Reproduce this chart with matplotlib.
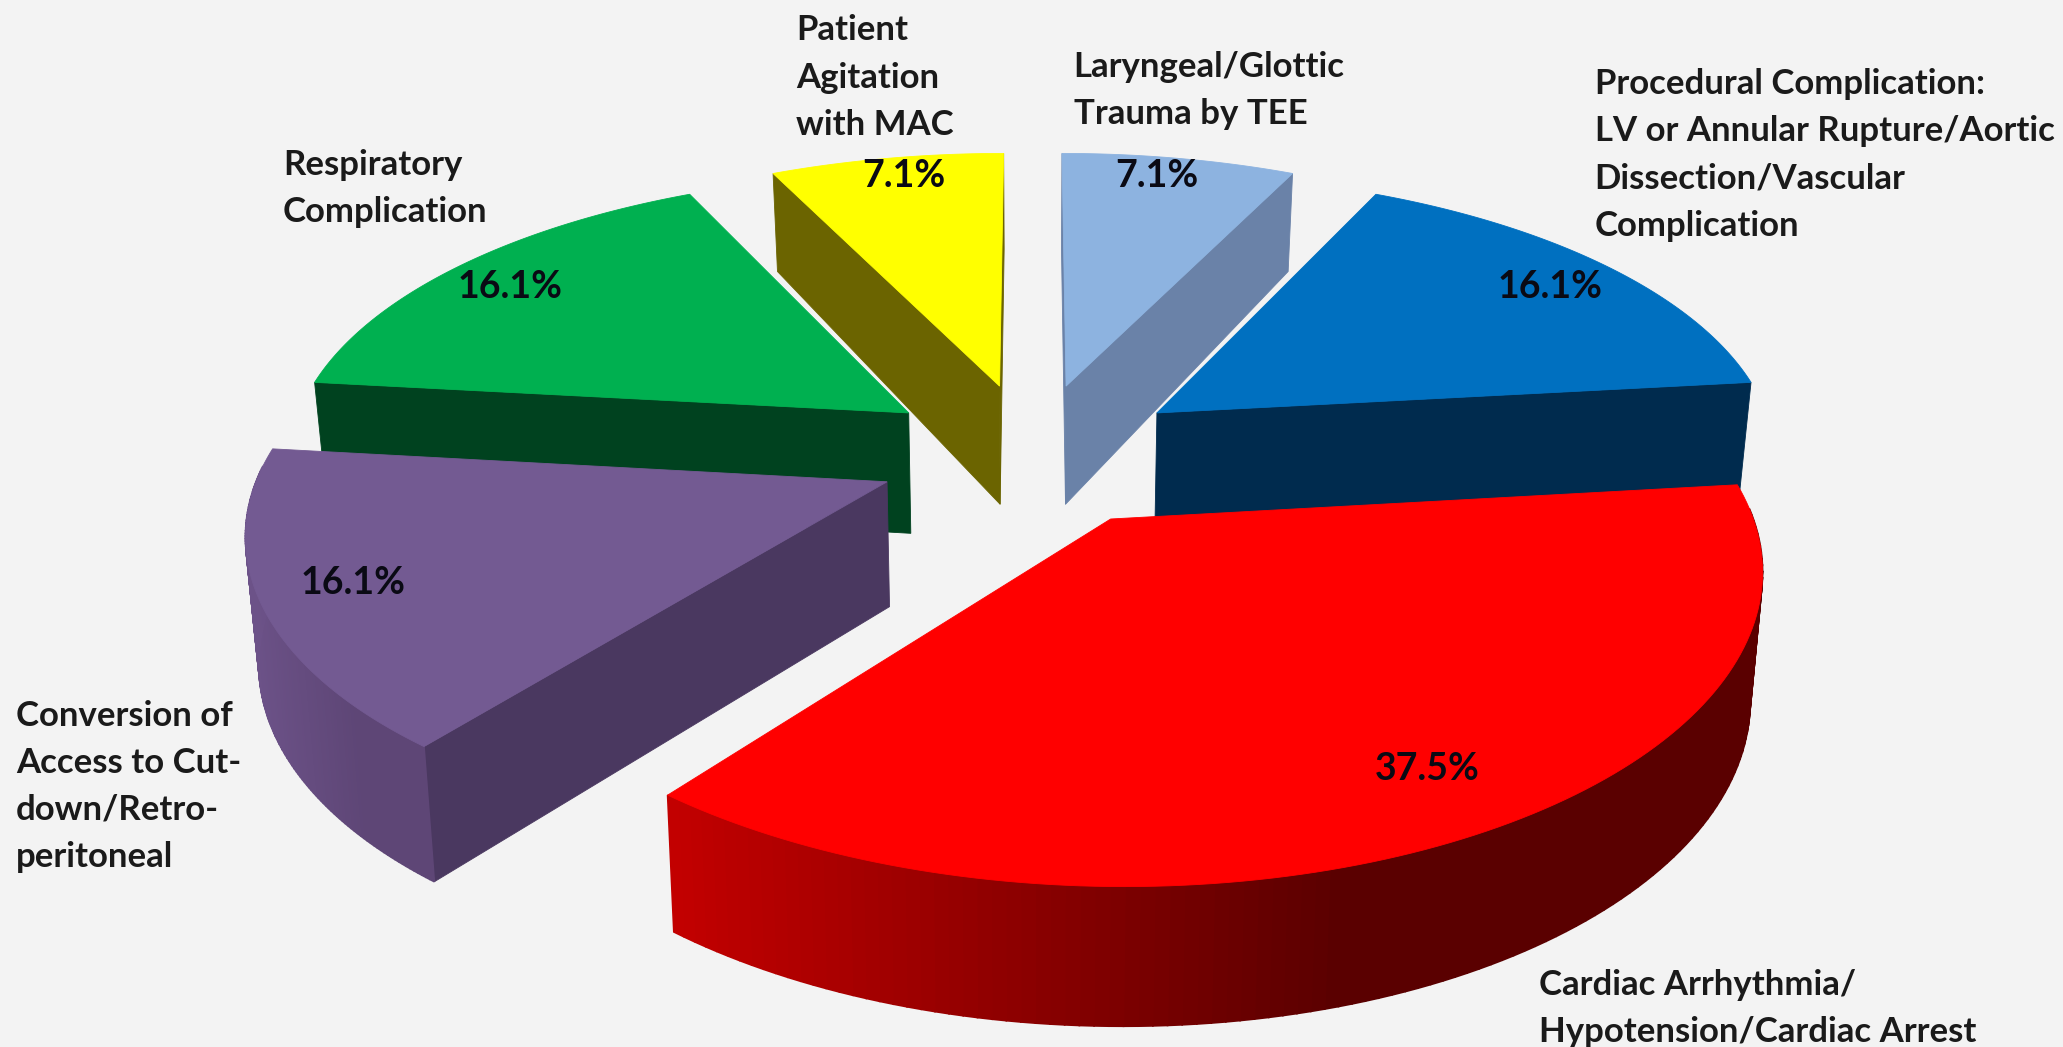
import numpy as np
import matplotlib
matplotlib.use("Agg")
import matplotlib.pyplot as plt
from matplotlib.patches import Polygon

# Slices clockwise from twelve o'clock
categories = [
    "Laryngeal/Glottic\nTrauma by TEE",
    "Procedural Complication:\nLV or Annular Rupture/Aortic\nDissection/Vascular\nComplication",
    "Cardiac Arrhythmia/\nHypotension/Cardiac Arrest",
    "Conversion of\nAccess to Cut-\ndown/Retro-\nperitoneal",
    "Respiratory\nComplication",
    "Patient\nAgitation\nwith MAC",
]
shares = [7.1, 16.1, 37.5, 16.1, 16.1, 7.1]
top_colors = ["#8DB3E0", "#0070C0", "#FF0000", "#735A92", "#00B050", "#FFFF00"]
wall_colors = ["#6A82A8", "#002B4E", "#5E0000", "#4A3860", "#00421F", "#6B6400"]
rim_colors = [("#6A82A8", "#6A82A8"), ("#002B4E", "#002B4E"),
              ("#C40000", "#5A0000"), ("#6C5288", "#5E4676"),
              ("#00421F", "#00421F"), ("#6B6400", "#6B6400")]
category_xy = [(816, 39), (1212, 52), (1170, 737), (12, 532), (215, 113), (605, 11)]
percent_xy = [(879, 134), (1178, 218), (1085, 585), (268, 443), (388, 218), (687, 134)]
draw_order = [5, 0, 1, 4, 3, 2]

# Projection of the pie plane to the canvas
CX, CY = 785.0, 345.0
SCALE_X, SCALE_Y = 473.0, 219.0
PERSPECTIVE_X, PERSPECTIVE_Y = 0.145, 0.155
EXPLODE = 0.25
BACKGROUND = "#F3F3F3"


def project(px, py):
    return (CX + SCALE_X * px / (1 + PERSPECTIVE_X * py),
            CY - SCALE_Y * py / (1 + PERSPECTIVE_Y * py))


def extrude(x, y, py):
    # Lower face of the disc: shifted down, slightly pulled towards the axis
    drop = 94 - np.where(np.asarray(py) > 0, 17.0, 10.0) * np.asarray(py)
    return CX + (x - CX) * 0.983, y + drop


fig = plt.figure(figsize=(20.63, 10.47), dpi=100, facecolor=BACKGROUND)
ax = fig.add_axes([0, 0, 1, 1])
ax.set_xlim(0, 1568)
ax.set_ylim(796, 0)
ax.axis("off")

fractions = np.array(shares) / sum(shares)
edges = np.concatenate([[0], np.cumsum(fractions)]) * 2 * np.pi
plt.rcParams["font.family"] = ["Lato", "DejaVu Sans"]


def face(points, color, z, lw=0.6):
    ax.add_patch(Polygon(points, closed=True, fc=color, ec=color, lw=lw, zorder=z))


for rank, i in enumerate(draw_order):
    z = 2 + rank * 3
    a0, a1 = edges[i], edges[i + 1]
    mid = (a0 + a1) / 2
    ox, oy = EXPLODE * np.sin(mid), EXPLODE * np.cos(mid)
    theta = np.linspace(a0, a1, 120)
    px, py = ox + np.sin(theta), oy + np.cos(theta)
    x, y = project(px, py)
    ax0, ay0 = project(ox, oy)
    bx, by = extrude(x, y, py)
    bax, bay = extrude(ax0, ay0, oy)

    # Cut faces, kept only when they turn towards the viewer
    for end in (0, -1):
        quad = np.array([(ax0, ay0), (x[end], y[end]), (bx[end], by[end]), (bax, bay)])
        qx, qy = quad[:, 0], quad[:, 1]
        area = np.sum(qx * np.roll(qy, -1) - np.roll(qx, -1) * qy)
        if (end == 0 and area < 0) or (end == -1 and area > 500):
            face(quad, wall_colors[i], z)

    # Rim of the disc, shaded along its length
    c0 = np.array(matplotlib.colors.to_rgb(rim_colors[i][0]))
    c1 = np.array(matplotlib.colors.to_rgb(rim_colors[i][1]))
    span = max(x.max() - x.min(), 1)
    for k in range(len(theta) - 1):
        if np.cos(theta[k]) > 0.05:
            continue
        t = np.clip(((x[k] - x.min()) / span) / 0.62, 0, 1)
        color = c0 + (c1 - c0) * t
        face([(x[k], y[k]), (x[k + 1], y[k + 1]), (bx[k + 1], by[k + 1]), (bx[k], by[k])],
             color, z + 1, lw=1.2)

    # Top of the slice
    face(np.column_stack([np.r_[ax0, x], np.r_[ay0, y]]), top_colors[i], z + 2)

for i, name in enumerate(categories):
    ax.text(*category_xy[i], name, fontsize=25, fontweight="bold", color="#1A1A1A",
            va="top", ha="left", linespacing=1.58, zorder=40)
    ax.text(*percent_xy[i], f"{shares[i]:.1f}%", fontsize=27, fontweight="bold",
            color="#0A0A14", va="center", ha="center", zorder=40)

fig.savefig("out.png", dpi=100, facecolor=BACKGROUND)
